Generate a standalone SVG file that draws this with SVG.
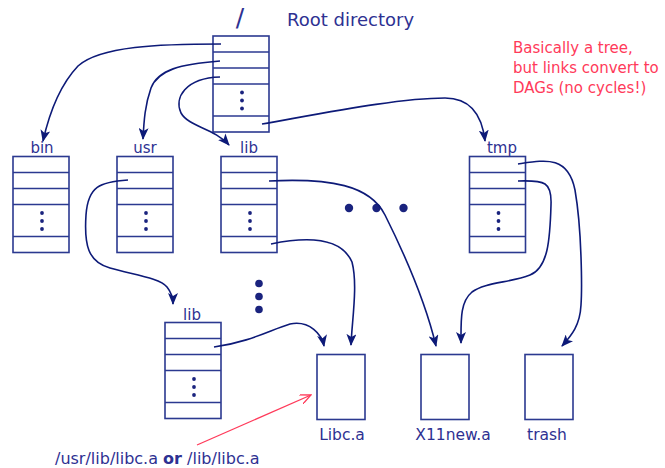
<svg xmlns="http://www.w3.org/2000/svg" width="665" height="468" viewBox="0 0 665 468">
  <style>
    .box { fill: #ffffff; stroke: #2b3990; stroke-width: 1.6; }
    .row { stroke: #2b3990; stroke-width: 1.6; }
    .dot { fill: #1a237e; }
    .lbl { font-family: "DejaVu Sans", "Liberation Sans", sans-serif; fill: #2e3192; }
    .link { fill: none; stroke: #0d1a78; stroke-width: 1.6; }
    .note { font-family: "DejaVu Sans", "Liberation Sans", sans-serif; fill: #ff3a5a; font-size: 15px; }
  </style>
  <defs>
    <marker id="arr" viewBox="0 0 12 10" refX="11" refY="5" markerWidth="12" markerHeight="10" markerUnits="userSpaceOnUse" orient="auto">
      <path d="M0,0 L12,5 L0,10 L3,5 Z" fill="#0d1a78"/>
    </marker>
    <marker id="open" viewBox="0 0 12 10" refX="11" refY="5" markerWidth="12" markerHeight="10" markerUnits="userSpaceOnUse" orient="auto">
      <path d="M0,0 L11,5 L0,10" fill="none" stroke="#ff3a5a" stroke-width="1.3"/>
    </marker>
    <!-- directory block: 5 slots, the fourth one tall with vertical dots -->
    <g id="dir">
      <rect class="box" x="0" y="0" width="56" height="96"/>
      <line class="row" x1="0" y1="16" x2="56" y2="16"/>
      <line class="row" x1="0" y1="32" x2="56" y2="32"/>
      <line class="row" x1="0" y1="48" x2="56" y2="48"/>
      <line class="row" x1="0" y1="80" x2="56" y2="80"/>
      <circle class="dot" cx="29" cy="56.5" r="1.9"/>
      <circle class="dot" cx="29" cy="64.5" r="1.9"/>
      <circle class="dot" cx="29" cy="72.5" r="1.9"/>
    </g>
  </defs>

  <!-- root directory -->
  <g id="root">
    <text class="lbl" x="240" y="26" font-size="25" text-anchor="middle" fill="#1a237e">/</text>
    <text class="lbl" x="287" y="26" font-size="18">Root directory</text>
    <use href="#dir" x="213" y="36"/>
  </g>

  <g id="bin">
    <text class="lbl" x="42" y="153" font-size="15" text-anchor="middle">bin</text>
    <use href="#dir" x="13" y="156.5"/>
  </g>

  <g id="usr">
    <text class="lbl" x="145" y="153" font-size="15" text-anchor="middle">usr</text>
    <use href="#dir" x="117" y="156.5"/>
  </g>

  <g id="lib">
    <text class="lbl" x="249" y="153" font-size="15" text-anchor="middle">lib</text>
    <use href="#dir" x="221" y="156.5"/>
  </g>

  <g id="tmp">
    <text class="lbl" x="502" y="153" font-size="15" text-anchor="middle">tmp</text>
    <use href="#dir" x="469.5" y="156.5"/>
  </g>

  <g id="usr-lib">
    <text class="lbl" x="192" y="320" font-size="15" text-anchor="middle">lib</text>
    <use href="#dir" x="165" y="322.5"/>
  </g>

  <!-- files -->
  <g id="libc">
    <rect class="box" x="317" y="354.5" width="48" height="65"/>
    <text class="lbl" x="342" y="439.5" font-size="15.5" text-anchor="middle">Libc.a</text>
  </g>
  <g id="x11new">
    <rect class="box" x="421" y="354.5" width="48" height="65"/>
    <text class="lbl" x="453" y="439.5" font-size="15.5" text-anchor="middle">X11new.a</text>
  </g>
  <g id="trash">
    <rect class="box" x="525" y="354.5" width="48" height="65"/>
    <text class="lbl" x="547" y="439.5" font-size="15.5" text-anchor="middle">trash</text>
  </g>

  <!-- elided entries -->
  <g id="more">
    <circle class="dot" cx="349" cy="208" r="4.2"/>
    <circle class="dot" cx="376.5" cy="208" r="4.2"/>
    <circle class="dot" cx="403.5" cy="208" r="4.2"/>
    <circle class="dot" cx="259" cy="283.5" r="3.8"/>
    <circle class="dot" cx="259" cy="296.5" r="3.8"/>
    <circle class="dot" cx="259" cy="309.5" r="3.8"/>
  </g>

  <!-- directory links -->
  <g id="links">
    <path class="link" marker-end="url(#arr)" d="M221,44 C160,44 100,46 78,66 C60,85 50,110 43,141"/>
    <path class="link" marker-end="url(#arr)" d="M220,61 C180,64 158,70 151,88 C145,105 144,120 143,139"/>
    <path class="link" marker-end="url(#arr)" d="M220,77 C185,78 174,98 181,113 C189,127 214,128 229,145"/>
    <path class="link" marker-end="url(#arr)" d="M262,124 C330,112 400,98 445,98 C470,98 482,115 485,141"/>
    <path class="link" marker-end="url(#arr)" d="M128,180 C100,182 88,186 86,215 C84,245 88,262 110,268 C135,275 160,278 167,287 C171,292 173,298 173,304"/>
    <path class="link" marker-end="url(#arr)" d="M269,181 C330,178 370,185 385,215 C405,255 425,300 436,346"/>
    <path class="link" marker-end="url(#arr)" d="M271,244 C300,238 340,235 352,262 C358,285 352,320 351,345"/>
    <path class="link" marker-end="url(#arr)" d="M214,347 C250,342 270,330 290,324 C310,320 322,335 324,346"/>
    <path class="link" marker-end="url(#arr)" d="M518,181 C545,180 552,182 551,205 C550,240 548,268 530,275 C510,283 485,282 472,292 C460,302 461,320 461,343"/>
    <path class="link" marker-end="url(#arr)" d="M518,164 C545,160 568,155 575,190 C582,230 582,290 581,305 C580,325 572,335 562,346"/>
    <path fill="none" stroke="#ff3a5a" stroke-width="1.3" marker-end="url(#open)" d="M197,445 L311,395"/>
  </g>

  <g id="notes">
    <text class="note" x="513" y="52.5">Basically a tree,</text>
    <text class="note" x="513" y="72.5">but links convert to</text>
    <text class="note" x="513" y="93">DAGs (no cycles!)</text>
    <text class="lbl" x="55" y="463.5" font-size="16">/usr/lib/libc.a <tspan font-weight="bold">or</tspan> /lib/libc.a</text>
  </g>
</svg>
